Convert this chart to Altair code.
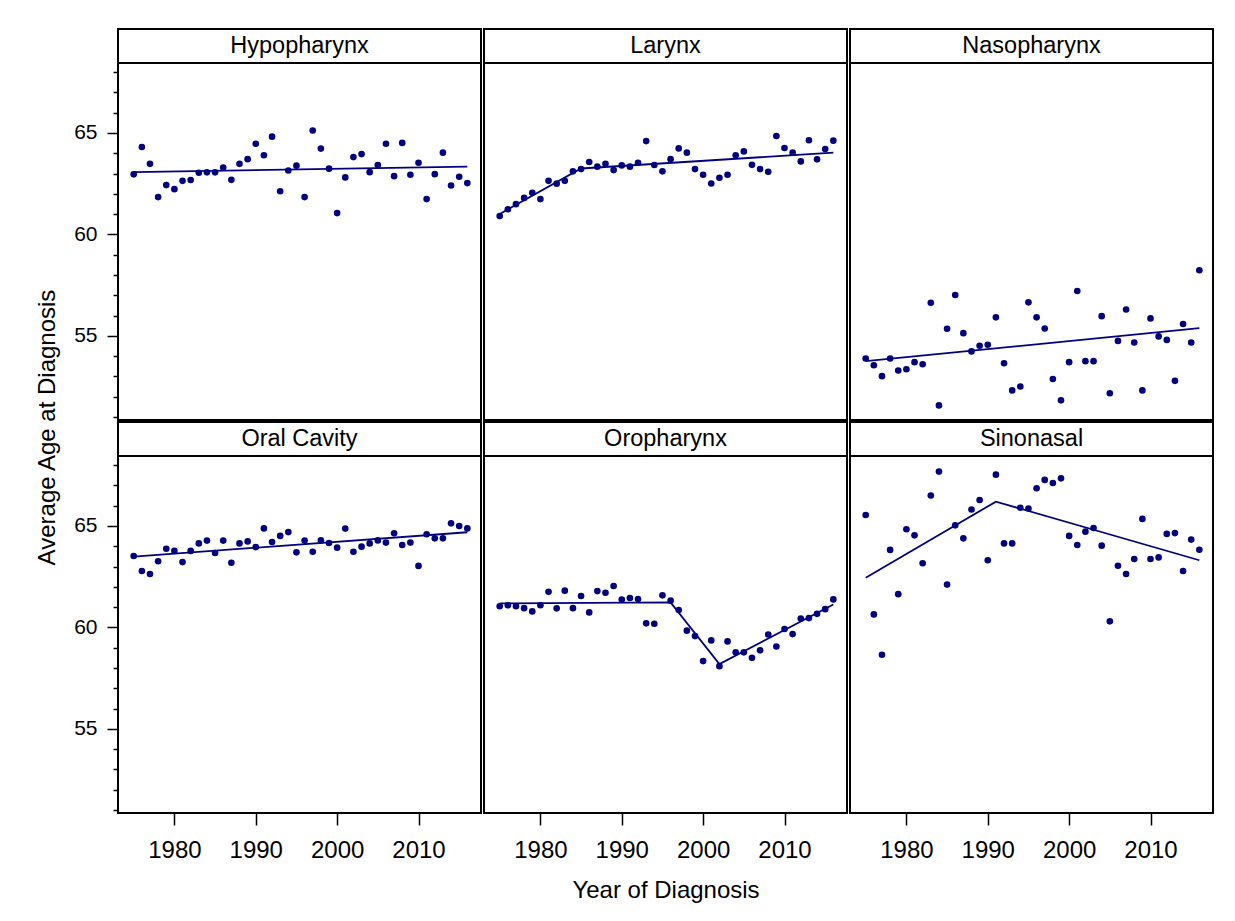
import altair as alt
import pandas as pd

FONT = "Liberation Sans"
NAVY = "#000080"

years = list(range(1975, 2017))
sites = ["Hypopharynx", "Larynx", "Nasopharynx", "Oral Cavity", "Oropharynx", "Sinonasal"]

hypopharynx = [62.96, 64.31, 63.48, 61.84, 62.43, 62.23, 62.64, 62.68, 63.04, 63.06,
               63.06, 63.30, 62.69, 63.48, 63.71, 64.47, 63.90, 64.82, 62.13, 63.15,
               63.39, 61.84, 65.12, 64.23, 63.24, 61.05, 62.81, 63.81, 63.96, 63.07,
               63.42, 64.47, 62.87, 64.51, 62.94, 63.53, 61.74, 62.97, 64.03, 62.41,
               62.84, 62.53]
larynx = [60.91, 61.24, 61.49, 61.80, 62.05, 61.74, 62.64, 62.50, 62.64, 63.11,
          63.22, 63.57, 63.34, 63.48, 63.17, 63.40, 63.34, 63.53, 64.60, 63.42,
          63.11, 63.71, 64.24, 64.03, 63.22, 62.94, 62.51, 62.79, 62.94, 63.90,
          64.09, 63.43, 63.22, 63.09, 64.85, 64.26, 64.03, 63.60, 64.64, 63.70,
          64.21, 64.62]
nasopharynx = [53.88, 53.55, 53.01, 53.88, 53.29, 53.35, 53.70, 53.60, 56.63, 51.57,
               55.35, 57.01, 55.13, 54.23, 54.51, 54.56, 55.91, 53.65, 52.31, 52.50,
               56.65, 55.91, 55.36, 52.87, 51.82, 53.70, 57.21, 53.75, 53.75, 55.97,
               52.17, 54.75, 56.30, 54.67, 52.31, 55.86, 54.97, 54.80, 52.78, 55.58,
               54.67, 58.23]
oral_cavity = [63.52, 62.78, 62.63, 63.26, 63.88, 63.77, 63.22, 63.77, 64.14, 64.28,
               63.67, 64.28, 63.19, 64.14, 64.24, 63.96, 64.88, 64.21, 64.51, 64.70,
               63.70, 64.28, 63.73, 64.29, 64.16, 63.93, 64.87, 63.73, 63.98, 64.14,
               64.29, 64.18, 64.64, 64.06, 64.18, 63.03, 64.59, 64.39, 64.39, 65.13,
               65.00, 64.88]
oropharynx = [61.04, 61.09, 61.04, 60.95, 60.79, 61.09, 61.76, 60.94, 61.81, 60.95,
              61.55, 60.74, 61.79, 61.71, 62.04, 61.37, 61.45, 61.40, 60.20, 60.18,
              61.58, 61.32, 60.86, 59.84, 59.57, 58.34, 59.36, 58.09, 59.31, 58.77,
              58.77, 58.50, 58.87, 59.65, 59.06, 59.92, 59.67, 60.44, 60.46, 60.67,
              60.90, 61.38]
sinonasal = [65.54, 60.64, 58.65, 63.82, 61.64, 64.84, 64.54, 63.16, 66.50, 67.68,
             62.11, 65.03, 64.39, 65.81, 66.28, 63.31, 67.53, 64.14, 64.14, 65.90,
             65.86, 66.86, 67.27, 67.12, 67.35, 64.51, 64.06, 64.72, 64.90, 64.03,
             60.30, 63.04, 62.63, 63.37, 65.35, 63.37, 63.45, 64.61, 64.65, 62.78,
             64.33, 63.83]

# joinpoint fitted lines (years at joinpoints, fitted ages)
fit_hypopharynx_years = [1975, 2016]
fit_hypopharynx = [63.07, 63.34]
fit_larynx_years = [1975, 1985, 2016]
fit_larynx = [61.01, 63.25, 64.03]
fit_nasopharynx_years = [1975, 2016]
fit_nasopharynx = [53.75, 55.38]
fit_oral_cavity_years = [1975, 2016]
fit_oral_cavity = [63.49, 64.69]
fit_oropharynx_years = [1975, 1996, 2002, 2016]
fit_oropharynx = [61.18, 61.23, 58.19, 61.13]
fit_sinonasal_years = [1975, 1991, 2016]
fit_sinonasal = [62.45, 66.20, 63.31]

y_ticks = list(range(51, 69))
x_ticks = [1980, 1990, 2000, 2010]
x_title = "Year of Diagnosis"
y_title = "Average Age at Diagnosis"

obs = {"Hypopharynx": hypopharynx, "Larynx": larynx, "Nasopharynx": nasopharynx,
       "Oral Cavity": oral_cavity, "Oropharynx": oropharynx, "Sinonasal": sinonasal}
fits = {"Hypopharynx": (fit_hypopharynx_years, fit_hypopharynx),
        "Larynx": (fit_larynx_years, fit_larynx),
        "Nasopharynx": (fit_nasopharynx_years, fit_nasopharynx),
        "Oral Cavity": (fit_oral_cavity_years, fit_oral_cavity),
        "Oropharynx": (fit_oropharynx_years, fit_oropharynx),
        "Sinonasal": (fit_sinonasal_years, fit_sinonasal)}

W = 363
H = 391
HDR = 34

x_scale = alt.Scale(domain=[1973.07, 2017.68], nice=False, zero=False)
y_scale = alt.Scale(domain=[50.85, 68.45], range=[H, HDR], nice=False, zero=False)


def x_axis(col, row):
    if row == 0:
        return None
    kw = dict(values=x_ticks, format="d", tickSize=12, labelPadding=13, labelFontSize=24,
              titleFontSize=24, titlePadding=16)
    if col == 1:
        return alt.Axis(title=x_title, **kw)
    return alt.Axis(title=None, **kw)


def y_axis(col, row):
    if col != 0:
        return None
    kw = dict(values=y_ticks,
              tickSize={"condition": {"test": "datum.value % 5 === 0", "value": 11}, "value": 5},
              labelExpr="datum.value % 5 === 0 ? datum.label : ''",
              labelPadding=10, labelFontSize=21, titleFontSize=24, titlePadding=14)
    if row == 0:
        return alt.Axis(title=y_title, titleY=398, **kw)
    return alt.Axis(title=None, **kw)


def panel(i, site):
    col, row = i % 3, i // 3
    d_obs = pd.DataFrame({"year": years, "age": obs[site]})
    fy, fv = fits[site]
    d_fit = pd.DataFrame({"year": fy, "age": fv})
    d_hdr = pd.DataFrame({"site": [site]})
    xe = alt.X("year:Q", scale=x_scale, axis=x_axis(col, row))
    ye = alt.Y("age:Q", scale=y_scale, axis=y_axis(col, row))
    line = alt.Chart(d_fit).mark_line(color=NAVY, strokeWidth=1.8).encode(
        x=xe, y=ye, order="year:Q")
    pts = alt.Chart(d_obs).mark_circle(color=NAVY, size=44, opacity=1).encode(x=xe, y=ye)
    hdr_rect = alt.Chart(d_hdr).mark_rect(fill="white", stroke="black", strokeWidth=2).encode(
        x=alt.value(0), x2=alt.value(W), y=alt.value(0), y2=alt.value(HDR))
    hdr_text = alt.Chart(d_hdr).mark_text(
        font=FONT, fontSize=23.5, color="black", align="center", baseline="alphabetic").encode(
        x=alt.value(W / 2), y=alt.value(24), text="site:N")
    return alt.layer(line, pts, hdr_rect, hdr_text).properties(width=W, height=H)


panels = [panel(i, s) for i, s in enumerate(sites)]

chart = alt.concat(*panels, columns=3, spacing={"row": 2, "column": 3}, bounds="flush").properties(
    padding={"left": 26, "top": 19, "right": 5, "bottom": 5},
    background="white",
).configure_view(stroke="black", strokeWidth=2).configure_axis(
    labelFont=FONT, labelColor="black", tickColor="black", tickWidth=1.5,
    titleFont=FONT, titleFontWeight="normal", titleColor="black",
    grid=False, domain=False)

chart.save("out.html", embed_options={"renderer": "svg", "actions": False})
